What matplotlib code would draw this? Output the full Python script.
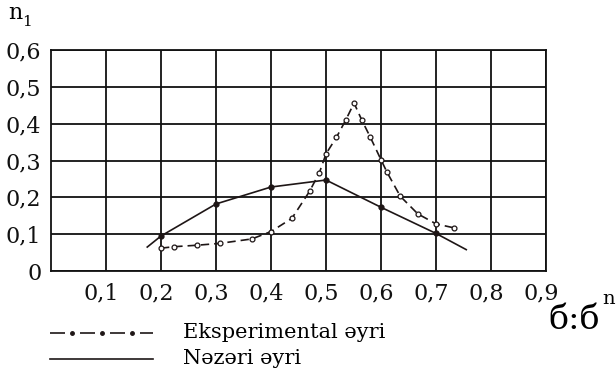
import matplotlib.pyplot as plt
import matplotlib.transforms as mtransforms

# experimental curve (dashed, open circles)
exp_x = [0.20, 0.224, 0.266, 0.307, 0.365, 0.40, 0.438, 0.47, 0.488, 0.50, 0.519, 0.536,
         0.551, 0.565, 0.58, 0.60, 0.611, 0.635, 0.667, 0.70, 0.733]
exp_y = [0.062, 0.066, 0.070, 0.075, 0.087, 0.107, 0.143, 0.216, 0.267, 0.318, 0.363, 0.410,
         0.456, 0.410, 0.365, 0.302, 0.268, 0.203, 0.155, 0.128, 0.117]

# theoretical curve (solid, filled dots)
teo_x = [0.175, 0.20, 0.30, 0.40, 0.50, 0.60, 0.70, 0.755]
teo_y = [0.065, 0.095, 0.182, 0.228, 0.247, 0.173, 0.102, 0.058]
teo_mark = [1, 2, 3, 4, 5, 6]

xticks = [0.1, 0.2, 0.3, 0.4, 0.5, 0.6, 0.7, 0.8, 0.9]
yticks = [0, 0.1, 0.2, 0.3, 0.4, 0.5, 0.6]

plt.rcParams['font.family'] = ['DejaVu Serif']
ink = '#1e1616'

fig = plt.figure(figsize=(6.16, 3.75), dpi=100)
ax = fig.add_axes([51/616, 1-271/375, 495/616, 221/375])

ax.plot(teo_x, teo_y, color=ink, lw=1.2)
ax.plot([teo_x[i] for i in teo_mark], [teo_y[i] for i in teo_mark], 'o',
        color=ink, ms=3.5)
ax.plot(exp_x, exp_y, color=ink, lw=1.2, ls=(0, (5, 3)),
        marker='o', ms=3.5, mfc='white', mec=ink, mew=0.9)

ax.set_xlim(0, 0.9)
ax.set_ylim(0, 0.6)
ax.set_xticks(xticks)
ax.set_yticks(yticks)
ax.set_xticklabels([str(v).replace('.', ',') for v in xticks])
ax.set_yticklabels(['0' if v == 0 else str(v).replace('.', ',') for v in yticks])
ax.tick_params(length=0, labelsize=16, colors='#111111', pad=7)
ax.tick_params(axis='x', pad=8)
off = mtransforms.ScaledTranslation(-5/100, 0, fig.dpi_scale_trans)
for lab in ax.get_xticklabels():
    lab.set_transform(lab.get_transform() + off)
ax.grid(True, color='#111111', lw=1.3)
for s in ax.spines.values():
    s.set_color('#111111')
    s.set_linewidth(1.3)

# axis captions
fig.text(8/616, 1-13/375, 'n', fontsize=16, va='center', ha='left')
fig.text(22/616, 1-22/375, '1', fontsize=11, va='center', ha='left')
fig.text(548/616, 1-320/375, 'б:б', fontsize=24, va='center', ha='left')
fig.text(602/616, 1-299/375, 'n', fontsize=14, va='center', ha='left')

# legend
ly1 = 1 - 333/375
ly2 = 1 - 359/375
fig.add_artist(plt.Line2D([50/616, 153/616], [ly1, ly1], color=ink,
                          lw=1.2, ls=(0, (9, 9))))
fig.add_artist(plt.Line2D([72/616, 102/616, 132/616], [ly1] * 3, color=ink,
                          ls='none', marker='o', ms=2.5))
fig.text(183/616, 1-333/375, 'Eksperimental əyri', fontsize=15, va='center')
fig.add_artist(plt.Line2D([50/616, 153/616], [ly2, ly2], color=ink, lw=1.2))
fig.text(183/616, 1-358/375, 'Nəzəri əyri', fontsize=15, va='center')

fig.savefig('out.png', dpi=100)
